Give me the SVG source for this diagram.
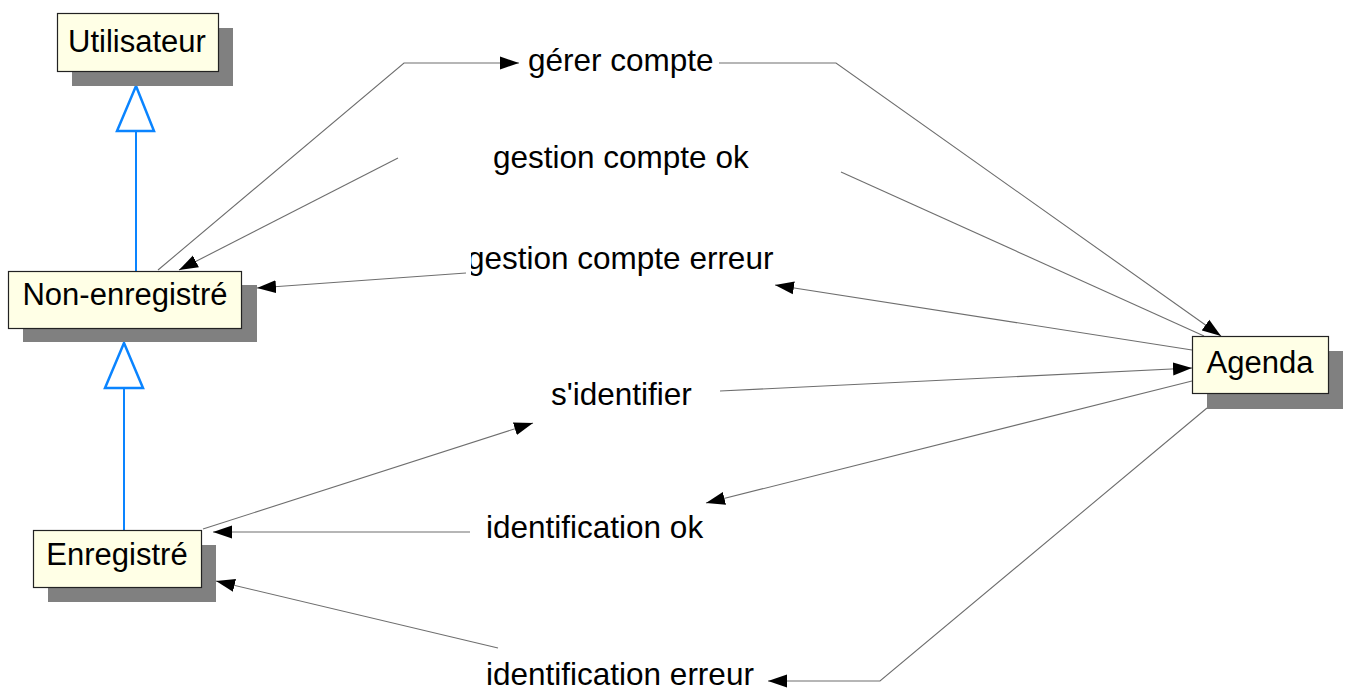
<svg xmlns="http://www.w3.org/2000/svg" width="1349" height="690" viewBox="0 0 1349 690">
  <style>
    .shadow { fill: #808080; }
    .box { fill: #ffffe6; stroke: #222; stroke-width: 1.2; }
    .name { font-family: "Liberation Sans", Arial, sans-serif; font-size: 31px; fill: #000; text-anchor: middle; }
    .msg { font-family: "Liberation Sans", Arial, sans-serif; font-size: 31.5px; fill: #000; }
    .gen { stroke: #0a84ff; stroke-width: 2; fill: none; }
    .gen-head { stroke: #0a84ff; stroke-width: 2.5; fill: #fff; stroke-linejoin: miter; }
    .link { stroke: #6e6e6e; stroke-width: 1.1; fill: none; }
  </style>
  <defs>
    <marker id="arrow" markerUnits="userSpaceOnUse" markerWidth="20" markerHeight="14" refX="19" refY="7" orient="auto">
      <path d="M0,0.5 L19,7 L0,13.5 z" fill="#000"/>
    </marker>
    <clipPath id="clip-erreur">
      <rect x="471" y="230" width="330" height="60"/>
    </clipPath>
  </defs>

  <rect width="1349" height="690" fill="#fff"/>

  <!-- generalisation links -->
  <g id="generalisations">
    <line class="gen" x1="136" y1="131" x2="136" y2="271"/>
    <polygon class="gen-head" points="136,86 154,131 117,131"/>
    <line class="gen" x1="124" y1="388" x2="124" y2="530"/>
    <polygon class="gen-head" points="124,343 143,388 105,388"/>
  </g>

  <!-- message connectors -->
  <g id="connectors">
    <!-- gérer compte -->
    <polyline class="link" points="158,270 404,63 519,63" marker-end="url(#arrow)"/>
    <polyline class="link" points="719,63 836,63 1221,336" marker-end="url(#arrow)"/>
    <!-- gestion compte ok -->
    <line class="link" x1="1204" y1="336" x2="841" y2="172"/>
    <line class="link" x1="398" y1="158" x2="179" y2="270" marker-end="url(#arrow)"/>
    <!-- gestion compte erreur -->
    <line class="link" x1="1192" y1="350" x2="775" y2="285" marker-end="url(#arrow)"/>
    <line class="link" x1="466" y1="273" x2="257" y2="288" marker-end="url(#arrow)"/>
    <!-- s'identifier -->
    <line class="link" x1="203" y1="529" x2="533" y2="423" marker-end="url(#arrow)"/>
    <line class="link" x1="720" y1="391" x2="1192" y2="368" marker-end="url(#arrow)"/>
    <!-- identification ok -->
    <line class="link" x1="1192" y1="381" x2="706" y2="503" marker-end="url(#arrow)"/>
    <line class="link" x1="470" y1="532" x2="213" y2="532" marker-end="url(#arrow)"/>
    <!-- identification erreur -->
    <polyline class="link" points="1207,408 880,681 768,681" marker-end="url(#arrow)"/>
    <line class="link" x1="498" y1="648" x2="216" y2="581" marker-end="url(#arrow)"/>
  </g>

  <!-- message labels -->
  <g id="labels">
    <text class="msg" x="528" y="71">gérer compte</text>
    <text class="msg" x="493" y="168">gestion compte ok</text>
    <text class="msg" x="467" y="269" clip-path="url(#clip-erreur)">gestion compte erreur</text>
    <text class="msg" x="551" y="405">s'identifier</text>
    <text class="msg" x="486" y="538">identification ok</text>
    <text class="msg" x="486" y="685">identification erreur</text>
  </g>

  <g id="utilisateur">
    <rect class="shadow" x="72" y="28" width="161" height="58"/>
    <rect class="box" x="57.5" y="13.5" width="161" height="58"/>
    <text class="name" x="137" y="52">Utilisateur</text>
  </g>

  <g id="non-enregistre">
    <rect class="shadow" x="23" y="285" width="234" height="57"/>
    <rect class="box" x="8.5" y="271.5" width="233" height="57"/>
    <text class="name" x="125" y="305">Non-enregistré</text>
  </g>

  <g id="enregistre">
    <rect class="shadow" x="48" y="545" width="168" height="57"/>
    <rect class="box" x="33.5" y="530.5" width="168" height="57"/>
    <text class="name" x="117" y="565">Enregistré</text>
  </g>

  <g id="agenda">
    <rect class="shadow" x="1207" y="351" width="136" height="58"/>
    <rect class="box" x="1192.5" y="336.5" width="136" height="57"/>
    <text class="name" x="1260" y="373">Agenda</text>
  </g>
</svg>
